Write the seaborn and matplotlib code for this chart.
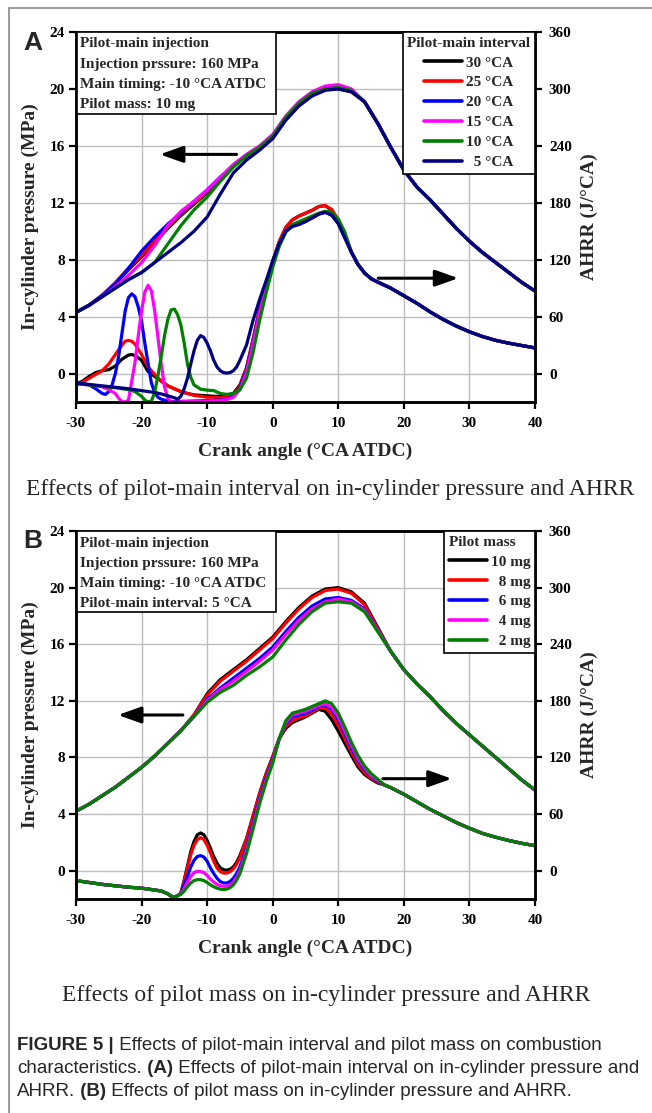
import matplotlib
matplotlib.use("Agg")
import matplotlib.pyplot as plt
import pandas as pd
import seaborn as sns
from matplotlib.lines import Line2D
from matplotlib.patches import Rectangle

sns.set_style("white")
plt.rcParams["font.family"] = ["Liberation Serif", "DejaVu Serif"]
plt.rcParams["font.weight"] = "bold"
plt.rcParams["axes.linewidth"] = 1.8
plt.rcParams["axes.edgecolor"] = "black"
plt.rcParams["axes.unicode_minus"] = False
plt.rcParams["xtick.color"] = "black"
plt.rcParams["ytick.color"] = "black"

FIG_W, FIG_H = 652, 1113

# ---------------- shared axis values ----------------
crank_ticks = [-30, -20, -10, 0, 10, 20, 30, 40]
pressure_ticks = [0, 4, 8, 12, 16, 20, 24]
ahrr_ticks = [0, 60, 120, 180, 240, 300, 360]

interval_labels = ["30 °CA", "25 °CA", "20 °CA", "15 °CA", "10 °CA", "5 °CA"]
mass_labels = ["10 mg", "8 mg", "6 mg", "4 mg", "2 mg"]
series_colors = ["#000000", "#ff0000", "#0000ff", "#ff00ff", "#008000", "#000080"]

# ---------------- panel A: in-cylinder pressure (MPa) ----------------
p_angle_a = [-30, -28, -26, -24, -22, -20, -18, -16, -14, -12, -10,
             -8, -6, -4, -2, 0, 2, 4, 6, 8, 10, 12]
p_a_30 = [4.3, 4.8, 5.5, 6.3, 7.3, 8.2, 9.2, 10.2, 11.1, 11.9, 12.7,
          13.7, 14.6, 15.3, 15.8, 16.6, 17.9, 18.9, 19.6, 20.0, 20.0, 19.8]
p_a_25 = [4.3, 4.8, 5.5, 6.4, 7.4, 8.3, 9.3, 10.3, 11.2, 12.0, 12.8,
          13.7, 14.6, 15.3, 15.8, 16.6, 17.9, 18.9, 19.6, 20.0, 20.1, 19.8]
p_a_20 = [4.3, 4.8, 5.5, 6.3, 7.4, 8.6, 9.6, 10.5, 11.3, 12.1, 12.9,
          13.8, 14.6, 15.3, 15.9, 16.7, 18.0, 19.0, 19.7, 20.1, 20.2, 19.9]
p_a_15 = [4.3, 4.8, 5.4, 6.1, 6.9, 7.8, 9.0, 10.4, 11.4, 12.1, 12.9,
          13.8, 14.7, 15.4, 16.0, 16.8, 18.1, 19.1, 19.8, 20.2, 20.3, 20.0]
p_a_10 = [4.3, 4.8, 5.4, 6.0, 6.6, 7.1, 7.8, 9.1, 10.4, 11.5, 12.4,
          13.5, 14.5, 15.3, 15.9, 16.7, 18.0, 19.0, 19.7, 20.0, 20.1, 19.9]
p_a_5 = [4.3, 4.8, 5.4, 6.0, 6.6, 7.1, 7.8, 8.5, 9.2, 10.0, 11.0,
         12.6, 14.1, 15.0, 15.7, 16.5, 17.8, 18.8, 19.5, 19.9, 20.0, 19.8]
p_tail_angle_a = [14, 16, 18, 20, 22, 24, 26, 28, 30, 32, 34, 36, 38, 40]
p_tail_a = [19.1, 17.6, 15.9, 14.3, 13.1, 12.2, 11.2, 10.2, 9.3, 8.5, 7.8, 7.1, 6.4, 5.8]

# ---------------- panel A: apparent heat release rate (J/°CA) ----------------
hrr_a_30 = [(-30, -11), (-29, -8), (-28, -3), (-27, 1), (-26, 3), (-25, 4), (-24, 8),
            (-23, 15), (-22, 19.5), (-21.5, 20), (-21, 19), (-20, 14), (-19, 2),
            (-18, -3), (-17, -8), (-16, -13), (-15, -16), (-14, -19), (-13, -21),
            (-12, -22.5), (-11, -23), (-10, -23.5), (-9, -24), (-8, -24), (-7, -23),
            (-6, -21), (-5, -12), (-4, 6), (-3, 36), (-2, 68), (-1, 93), (0, 118),
            (1, 139), (2, 154), (3, 162), (4, 166), (5, 169), (6, 172), (7, 176),
            (8, 177), (9, 172), (10, 161), (11, 145)]
hrr_a_25 = [(-30, -12), (-29, -9), (-28, -5), (-27, -1), (-26, 3), (-25, 10), (-24, 20),
            (-23, 30), (-22.5, 34), (-22, 35), (-21.5, 34), (-21, 31), (-20, 20),
            (-19, 7), (-18, -1), (-17, -8), (-16, -13), (-15, -16), (-14, -19),
            (-13, -21), (-12, -23), (-11, -24), (-10, -25), (-9, -25), (-8, -25.5),
            (-7, -25), (-6, -23), (-5, -13), (-4, 5), (-3, 35), (-2, 67), (-1, 93),
            (0, 118), (1, 139), (2, 154), (3, 162), (4, 166), (5, 169), (6, 172),
            (7, 176), (8, 177), (9, 173), (10, 162), (11, 146)]
hrr_a_20 = [(-30, -10), (-29, -10.5), (-28, -12), (-27, -16), (-26, -21), (-25.5, -22),
            (-25, -19), (-24.5, -12), (-24, 0), (-23.5, 18), (-23, 42), (-22.5, 66),
            (-22, 80), (-21.5, 84), (-21, 81), (-20.5, 70), (-20, 55), (-19.5, 32),
            (-19, 10), (-18.5, -10), (-18, -20), (-17.5, -25), (-17, -27), (-16, -29),
            (-15, -29.5), (-12, -29), (-10, -28.5), (-8, -28), (-7, -27), (-6, -24),
            (-5, -15), (-4, 3), (-3, 33), (-2, 65), (-1, 91), (0, 117), (1, 137),
            (2, 150), (3, 156), (4, 158), (5, 161), (6, 164), (7, 168), (8, 170),
            (9, 167), (10, 158), (11, 143)]
hrr_a_15 = [(-30, -11), (-29, -11.5), (-28, -12), (-27, -13), (-26, -14), (-25, -17),
            (-24, -21), (-23.5, -26), (-23, -29.5), (-22.5, -30), (-22, -28),
            (-21.5, -8), (-21, 12), (-20.5, 40), (-20, 66), (-19.5, 86), (-19, 93),
            (-18.5, 87), (-18, 66), (-17.5, 38), (-17, 10), (-16.5, -14), (-16, -26),
            (-15.5, -30), (-15, -30), (-13, -29.5), (-10, -29), (-8, -28.5), (-7, -27.5),
            (-6, -25), (-5, -17), (-4, 1), (-3, 31), (-2, 64), (-1, 90), (0, 117),
            (1, 137), (2, 150), (3, 156), (4, 158), (5, 161), (6, 164), (7, 168),
            (8, 170), (9, 168), (10, 160), (11, 144)]
hrr_a_10 = [(-30, -10.5), (-28, -12), (-26, -13.5), (-24, -15), (-22, -17), (-21, -19),
            (-20, -24), (-19.5, -28), (-19, -30), (-18.5, -29), (-18, -20), (-17.5, -2),
            (-17, 18), (-16.5, 40), (-16, 57), (-15.5, 67), (-15, 68), (-14.5, 62),
            (-14, 51), (-13.5, 32), (-13, 10), (-12.5, -4), (-12, -12), (-11, -16.5),
            (-10, -17.5), (-9, -18), (-8, -21), (-7, -22), (-6, -21), (-5, -17),
            (-4, -5), (-3, 22), (-2, 56), (-1, 85), (0, 112), (1, 134), (2, 149),
            (3, 157), (4, 160), (5, 163), (6, 166), (7, 169), (8, 171), (9, 170),
            (10, 163), (11, 149)]
hrr_a_5 = [(-30, -10), (-28, -11.5), (-26, -13), (-24, -14.5), (-22, -16), (-20, -18),
           (-18, -20), (-17, -21.5), (-16, -23.5), (-15, -25.5), (-14.5, -27),
           (-14, -24), (-13.5, -16), (-13, -5), (-12.5, 10), (-12, 24), (-11.5, 35),
           (-11, 40), (-10.5, 38), (-10, 32), (-9.5, 24), (-9, 14), (-8.5, 7), (-8, 3),
           (-7.5, 1), (-7, 0.5), (-6.5, 1), (-6, 3), (-5.5, 7), (-5, 14), (-4, 30),
           (-3, 56), (-2, 78), (-1, 98), (0, 119), (1, 137), (2, 150), (3, 155),
           (4, 157), (5, 160), (6, 164), (7, 168), (8, 170), (9, 167), (10, 158),
           (11, 143)]
hrr_tail_a = [(12, 128), (13, 115), (14, 106), (15, 100), (16, 96.5), (18, 90), (20, 82),
              (22, 74), (24, 65), (26, 57), (28, 50), (30, 44), (32, 39), (34, 35),
              (36, 32), (38, 29.5), (40, 27)]

# ---------------- panel B: in-cylinder pressure (MPa) ----------------
p_angle_b = [-30, -28, -26, -24, -22, -20, -18, -16, -14, -12, -10,
             -8, -6, -4, -2, 0, 2, 4, 6, 8, 10, 12, 14, 16]
p_b_10 = [4.2, 4.7, 5.3, 5.9, 6.6, 7.3, 8.1, 9.0, 9.9, 11.0, 12.5,
          13.5, 14.2, 14.9, 15.7, 16.5, 17.6, 18.6, 19.4, 19.9, 20.0, 19.7, 18.9, 17.2]
p_b_8 = [4.2, 4.7, 5.3, 5.9, 6.6, 7.3, 8.1, 9.0, 9.9, 11.0, 12.4,
         13.4, 14.1, 14.8, 15.6, 16.4, 17.5, 18.5, 19.3, 19.8, 19.9, 19.6, 18.8, 17.1]
p_b_6 = [4.2, 4.7, 5.3, 5.9, 6.6, 7.3, 8.1, 9.0, 9.9, 10.9, 12.1,
         12.9, 13.6, 14.3, 15.0, 15.8, 16.9, 17.9, 18.7, 19.2, 19.3, 19.1, 18.5, 17.0]
p_b_4 = [4.2, 4.7, 5.3, 5.9, 6.6, 7.3, 8.1, 9.0, 9.9, 10.9, 12.0,
         12.8, 13.4, 14.1, 14.8, 15.6, 16.7, 17.7, 18.5, 19.0, 19.2, 19.0, 18.4, 17.0]
p_b_2 = [4.2, 4.7, 5.3, 5.9, 6.6, 7.3, 8.1, 9.0, 9.9, 10.9, 11.9,
         12.6, 13.1, 13.8, 14.4, 15.1, 16.3, 17.4, 18.3, 18.9, 19.0, 18.9, 18.3, 16.9]
p_tail_angle_b = [18, 20, 22, 24, 26, 28, 30, 32, 34, 36, 38, 40]
p_tail_b = [15.5, 14.2, 13.2, 12.3, 11.3, 10.4, 9.6, 8.8, 8.0, 7.2, 6.4, 5.7]

# ---------------- panel B: apparent heat release rate (J/°CA) ----------------
hrr_head_b = [(-30, -10.5), (-28, -12.5), (-26, -14.5), (-24, -16), (-22, -17.5),
              (-20, -18.5), (-18, -20.5), (-17, -21.5), (-16, -24.5), (-15.5, -27),
              (-15, -28), (-14.5, -26.5)]
hrr_b_10 = [(-14, -24), (-13.5, -10), (-13, 5), (-12.5, 20), (-12, 31), (-11.5, 38),
            (-11, 40), (-10.5, 38), (-10, 32), (-9.5, 24), (-9, 15), (-8.5, 8), (-8, 3),
            (-7.5, 1), (-7, 0.5), (-6.5, 1.5), (-6, 4), (-5.5, 9), (-5, 16), (-4, 34),
            (-3, 58), (-2, 82), (-1, 103), (0, 121), (1, 140), (2, 151), (3, 157),
            (4, 160), (5, 163), (6, 167), (7, 171), (8, 169), (9, 160), (10, 148),
            (11, 135), (12, 122), (13, 110), (14, 102), (15, 97), (16, 93)]
hrr_b_8 = [(-14, -24), (-13.5, -11), (-13, 3), (-12.5, 17), (-12, 27), (-11.5, 33),
           (-11, 35), (-10.5, 33), (-10, 27), (-9.5, 19), (-9, 10), (-8.5, 3), (-8, -1),
           (-7.5, -2.5), (-7, -2.5), (-6.5, -1), (-6, 2), (-5.5, 7), (-5, 14), (-4, 33),
           (-3, 57), (-2, 81), (-1, 102), (0, 120), (1, 140), (2, 153), (3, 159),
           (4, 162), (5, 164), (6, 168), (7, 172), (8, 173), (9, 166), (10, 154),
           (11, 140), (12, 126), (13, 113), (14, 104), (15, 98), (16, 94)]
hrr_b_6 = [(-14, -24), (-13.5, -15), (-13, -6), (-12.5, 4), (-12, 11), (-11.5, 15),
           (-11, 16), (-10.5, 14.5), (-10, 10), (-9.5, 3), (-9, -3), (-8.5, -8),
           (-8, -11.5), (-7.5, -13), (-7, -13), (-6.5, -11.5), (-6, -8), (-5.5, -3),
           (-5, 4), (-4, 24), (-3, 50), (-2, 76), (-1, 98), (0, 117), (1, 140), (2, 156),
           (3, 163), (4, 165), (5, 167), (6, 170), (7, 174), (8, 176), (9, 171),
           (10, 160), (11, 145), (12, 130), (13, 117), (14, 107), (15, 100), (16, 95)]
hrr_b_4 = [(-14, -24.5), (-13.5, -19), (-13, -12), (-12.5, -6), (-12, -2), (-11.5, -0.5),
           (-11, -1), (-10.5, -2), (-10, -5), (-9.5, -9), (-9, -12), (-8.5, -14.5),
           (-8, -16), (-7.5, -16.5), (-7, -16.5), (-6.5, -15), (-6, -12), (-5.5, -7),
           (-5, 0), (-4, 21), (-3, 47), (-2, 74), (-1, 96), (0, 116), (1, 140), (2, 157),
           (3, 165), (4, 167), (5, 169), (6, 172), (7, 175), (8, 177), (9, 173),
           (10, 163), (11, 148), (12, 133), (13, 119), (14, 109), (15, 101), (16, 96)]
hrr_b_2 = [(-14, -25), (-13.5, -21.5), (-13, -17), (-12.5, -13), (-12, -10.5),
           (-11.5, -9.5), (-11, -9.5), (-10.5, -10.5), (-10, -12.5), (-9.5, -15),
           (-9, -17), (-8.5, -18.5), (-8, -19.5), (-7.5, -20), (-7, -19.5), (-6.5, -18),
           (-6, -15), (-5.5, -10), (-5, -3), (-4, 18), (-3, 44), (-2, 71), (-1, 94),
           (0, 114), (1, 140), (2, 159), (3, 167), (4, 169), (5, 171), (6, 174), (7, 177),
           (8, 180), (9, 177), (10, 167), (11, 152), (12, 136), (13, 122), (14, 111),
           (15, 103), (16, 97)]
hrr_tail_b = [(17, 91), (18, 88), (20, 81), (22, 73), (24, 65), (26, 58), (28, 51),
              (30, 45), (32, 39.5), (34, 35.5), (36, 32), (38, 29), (40, 26.5)]

info_a = ["Pilot-main injection", "Injection prssure: 160 MPa",
          "Main timing: -10 °CA ATDC", "Pilot mass: 10 mg"]
info_b = ["Pilot-main injection", "Injection prssure: 160 MPa",
          "Main timing: -10 °CA ATDC", "Pilot-main interval: 5 °CA"]

caption_a = "Effects of pilot-main interval on in-cylinder pressure and AHRR"
caption_b = "Effects of pilot mass on in-cylinder pressure and AHRR"
caption_lines = [
    [("FIGURE 5 |", "bold"), (" Effects of pilot-main interval and pilot mass on combustion", "normal")],
    [("characteristics.", "normal"), (" (A)", "bold"),
     (" Effects of pilot-main interval on in-cylinder pressure and", "normal")],
    [("AHRR.", "normal"), (" (B)", "bold"),
     (" Effects of pilot mass on in-cylinder pressure and AHRR.", "normal")],
]


def pressure_frame(angles, curves, tail_angles, tail, labels):
    rows = []
    for label, values in zip(labels, curves):
        for a, v in zip(list(angles) + list(tail_angles), list(values) + list(tail)):
            rows.append((a, v, label))
    return pd.DataFrame(rows, columns=["angle", "value", "series"])


def hrr_frame(curves, labels, head=(), tail=()):
    rows = []
    for label, pairs in zip(labels, curves):
        for a, v in list(head) + list(pairs) + list(tail):
            rows.append((a, v, label))
    return pd.DataFrame(rows, columns=["angle", "value", "series"])


fig = plt.figure(figsize=(FIG_W / 100, FIG_H / 100), dpi=100)


def axes_px(left, top, right, bottom):
    return fig.add_axes([left / FIG_W, 1 - bottom / FIG_H,
                         (right - left) / FIG_W, (bottom - top) / FIG_H])


def fig_xy(x, y):
    return x / FIG_W, 1 - y / FIG_H


SERIF = ["Liberation Serif", "DejaVu Serif"]
SANS = ["Liberation Sans", "DejaVu Sans"]


def draw_panel(top, bottom, p_df, h_df, labels, colors, legend_title, legend_labels,
               legend_align, info_lines, info_bottom, arrow_l, arrow_r):
    ax = axes_px(76, top, 535, bottom)
    ax2 = ax.twinx()
    height = bottom - top

    sns.lineplot(data=p_df, x="angle", y="value", hue="series", hue_order=labels,
                 palette=colors, estimator=None, sort=False, lw=2.3, ax=ax, legend=False)
    sns.lineplot(data=h_df, x="angle", y="value", hue="series", hue_order=labels,
                 palette=colors, estimator=None, sort=False, lw=2.3, ax=ax2, legend=False)

    ax.set_xlim(-30, 40)
    ax.set_ylim(-2, 24)
    ax2.set_ylim(-30, 360)
    ax.set_xticks(crank_ticks)
    ax.set_yticks(pressure_ticks)
    ax2.set_yticks(ahrr_ticks)
    ax.grid(True, color="#bdbdbd", lw=1.0)
    ax.set_axisbelow(True)
    ax2.grid(False)

    for a in (ax, ax2):
        for s in a.spines.values():
            s.set_visible(True)
            s.set_linewidth(1.8)
            s.set_color("black")
    ax.tick_params(axis="both", which="both", direction="out", length=5, width=1.6,
                   labelsize=11, top=False, right=False, left=True, bottom=True)
    ax.tick_params(axis="x", pad=6)
    ax.tick_params(axis="y", pad=3)
    ax2.tick_params(axis="y", direction="out", length=5, width=1.6, labelsize=11,
                    right=True, pad=5)

    ax.set_xlabel("Crank angle (°CA ATDC)", fontsize=14, fontweight="bold")
    ax.xaxis.set_label_coords(0.5, -0.11)
    ax.set_ylabel("In-cylinder pressure (MPa)", fontsize=14, fontweight="bold")
    ax.yaxis.set_label_coords(-0.08, 0.5)
    ax2.set_ylabel("AHRR (J/°CA)", fontsize=14, fontweight="bold")
    ax2.yaxis.set_label_coords(1.1, 0.5)

    # direction arrows: pressure read on the left axis, AHRR on the right
    for (head, tail) in (arrow_l, arrow_r):
        ax.annotate("", xy=head, xytext=tail,
                    arrowprops=dict(arrowstyle="-|>,head_length=0.7,head_width=0.25",
                                    color="black", lw=2.2, mutation_scale=20,
                                    shrinkA=0, shrinkB=0))

    # condition box in the upper-left corner
    box_h = (info_bottom - top) / height
    ax2.add_patch(Rectangle((0.002, 1 - box_h), 0.434, box_h, transform=ax2.transAxes,
                            fc="white", ec="black", lw=1.2, zorder=5))
    for i, line in enumerate(info_lines):
        ax2.text(0.008, 1 - (12 + 20.3 * i) / height, line, transform=ax2.transAxes,
                 fontsize=11, fontweight="bold", va="center", ha="left", zorder=6)

    handles = [Line2D([], [], color=c, lw=2.6) for c in colors]
    leg = ax2.legend(handles, legend_labels, title=legend_title, loc="upper right",
                     bbox_to_anchor=(1, 1), borderaxespad=0, frameon=True, fancybox=False,
                     framealpha=1, edgecolor="black",
                     prop={"family": SERIF, "weight": "bold", "size": 11},
                     title_fontproperties={"family": SERIF, "weight": "bold", "size": 11},
                     handlelength=2.5, handletextpad=0.25, labelspacing=0.41,
                     borderpad=0.3, alignment=legend_align)
    leg.get_frame().set_linewidth(1.2)
    leg.set_zorder(10)
    return ax, ax2


df_pa = pressure_frame(p_angle_a, [p_a_30, p_a_25, p_a_20, p_a_15, p_a_10, p_a_5],
                       p_tail_angle_a, p_tail_a, interval_labels)
df_ha = hrr_frame([hrr_a_30, hrr_a_25, hrr_a_20, hrr_a_15, hrr_a_10, hrr_a_5],
                  interval_labels, tail=hrr_tail_a)
df_pb = pressure_frame(p_angle_b, [p_b_10, p_b_8, p_b_6, p_b_4, p_b_2],
                       p_tail_angle_b, p_tail_b, mass_labels)
df_hb = hrr_frame([hrr_b_10, hrr_b_8, hrr_b_6, hrr_b_4, hrr_b_2], mass_labels,
                  head=hrr_head_b, tail=hrr_tail_b)

draw_panel(32, 402, df_pa, df_ha, interval_labels, series_colors,
           "Pilot-main interval",
           ["30 °CA", "25 °CA", "20 °CA", "15 °CA", "10 °CA", "  5 °CA"], "center",
           info_a, 114, ((-17.2, 15.4), (-5.5, 15.4)), ((28.3, 6.7), (16.1, 6.7)))
draw_panel(531, 899, df_pb, df_hb, mass_labels, series_colors[:5],
           "Pilot mass",
           ["10 mg", "  8 mg", "  6 mg", "  4 mg", "  2 mg"], "left",
           info_b, 612, ((-23.6, 11.0), (-13.7, 11.0)), ((27.3, 6.5), (16.8, 6.5)))

# panel letters
fig.text(*fig_xy(23, 50), "A", family=SANS, fontsize=19, fontweight="bold",
         ha="left", va="baseline")
fig.text(*fig_xy(23, 548), "B", family=SANS, fontsize=19, fontweight="bold",
         ha="left", va="baseline")

# sub-figure captions
fig.text(*fig_xy(330, 490), caption_a, family=SERIF, fontsize=17, fontweight="normal",
         ha="center", va="center")
fig.text(*fig_xy(326, 995), caption_b, family=SERIF, fontsize=17, fontweight="normal",
         ha="center", va="center")

# figure caption: runs of bold and regular text placed one after another
fig.canvas.draw()
renderer = fig.canvas.get_renderer()
CAP_FONT = ["Liberation Sans", "DejaVu Sans"]
for k, parts in enumerate(caption_lines):
    x = 17
    y = 1045 + 23.5 * k
    for text, weight in parts:
        t = fig.text(*fig_xy(x, y), text, family=CAP_FONT, fontsize=13.5,
                     fontweight=weight, ha="left", va="center")
        x += t.get_window_extent(renderer=renderer).width

# outer frame of the figure image
fig.add_artist(Line2D([9 / FIG_W, 1], [1 - 8 / FIG_H, 1 - 8 / FIG_H], color="#8a8a8a",
                      lw=1.2, transform=fig.transFigure))
fig.add_artist(Line2D([9 / FIG_W, 9 / FIG_W], [0, 1 - 8 / FIG_H], color="#8a8a8a",
                      lw=1.2, transform=fig.transFigure))

fig.savefig("out.png", dpi=100, facecolor="white")
